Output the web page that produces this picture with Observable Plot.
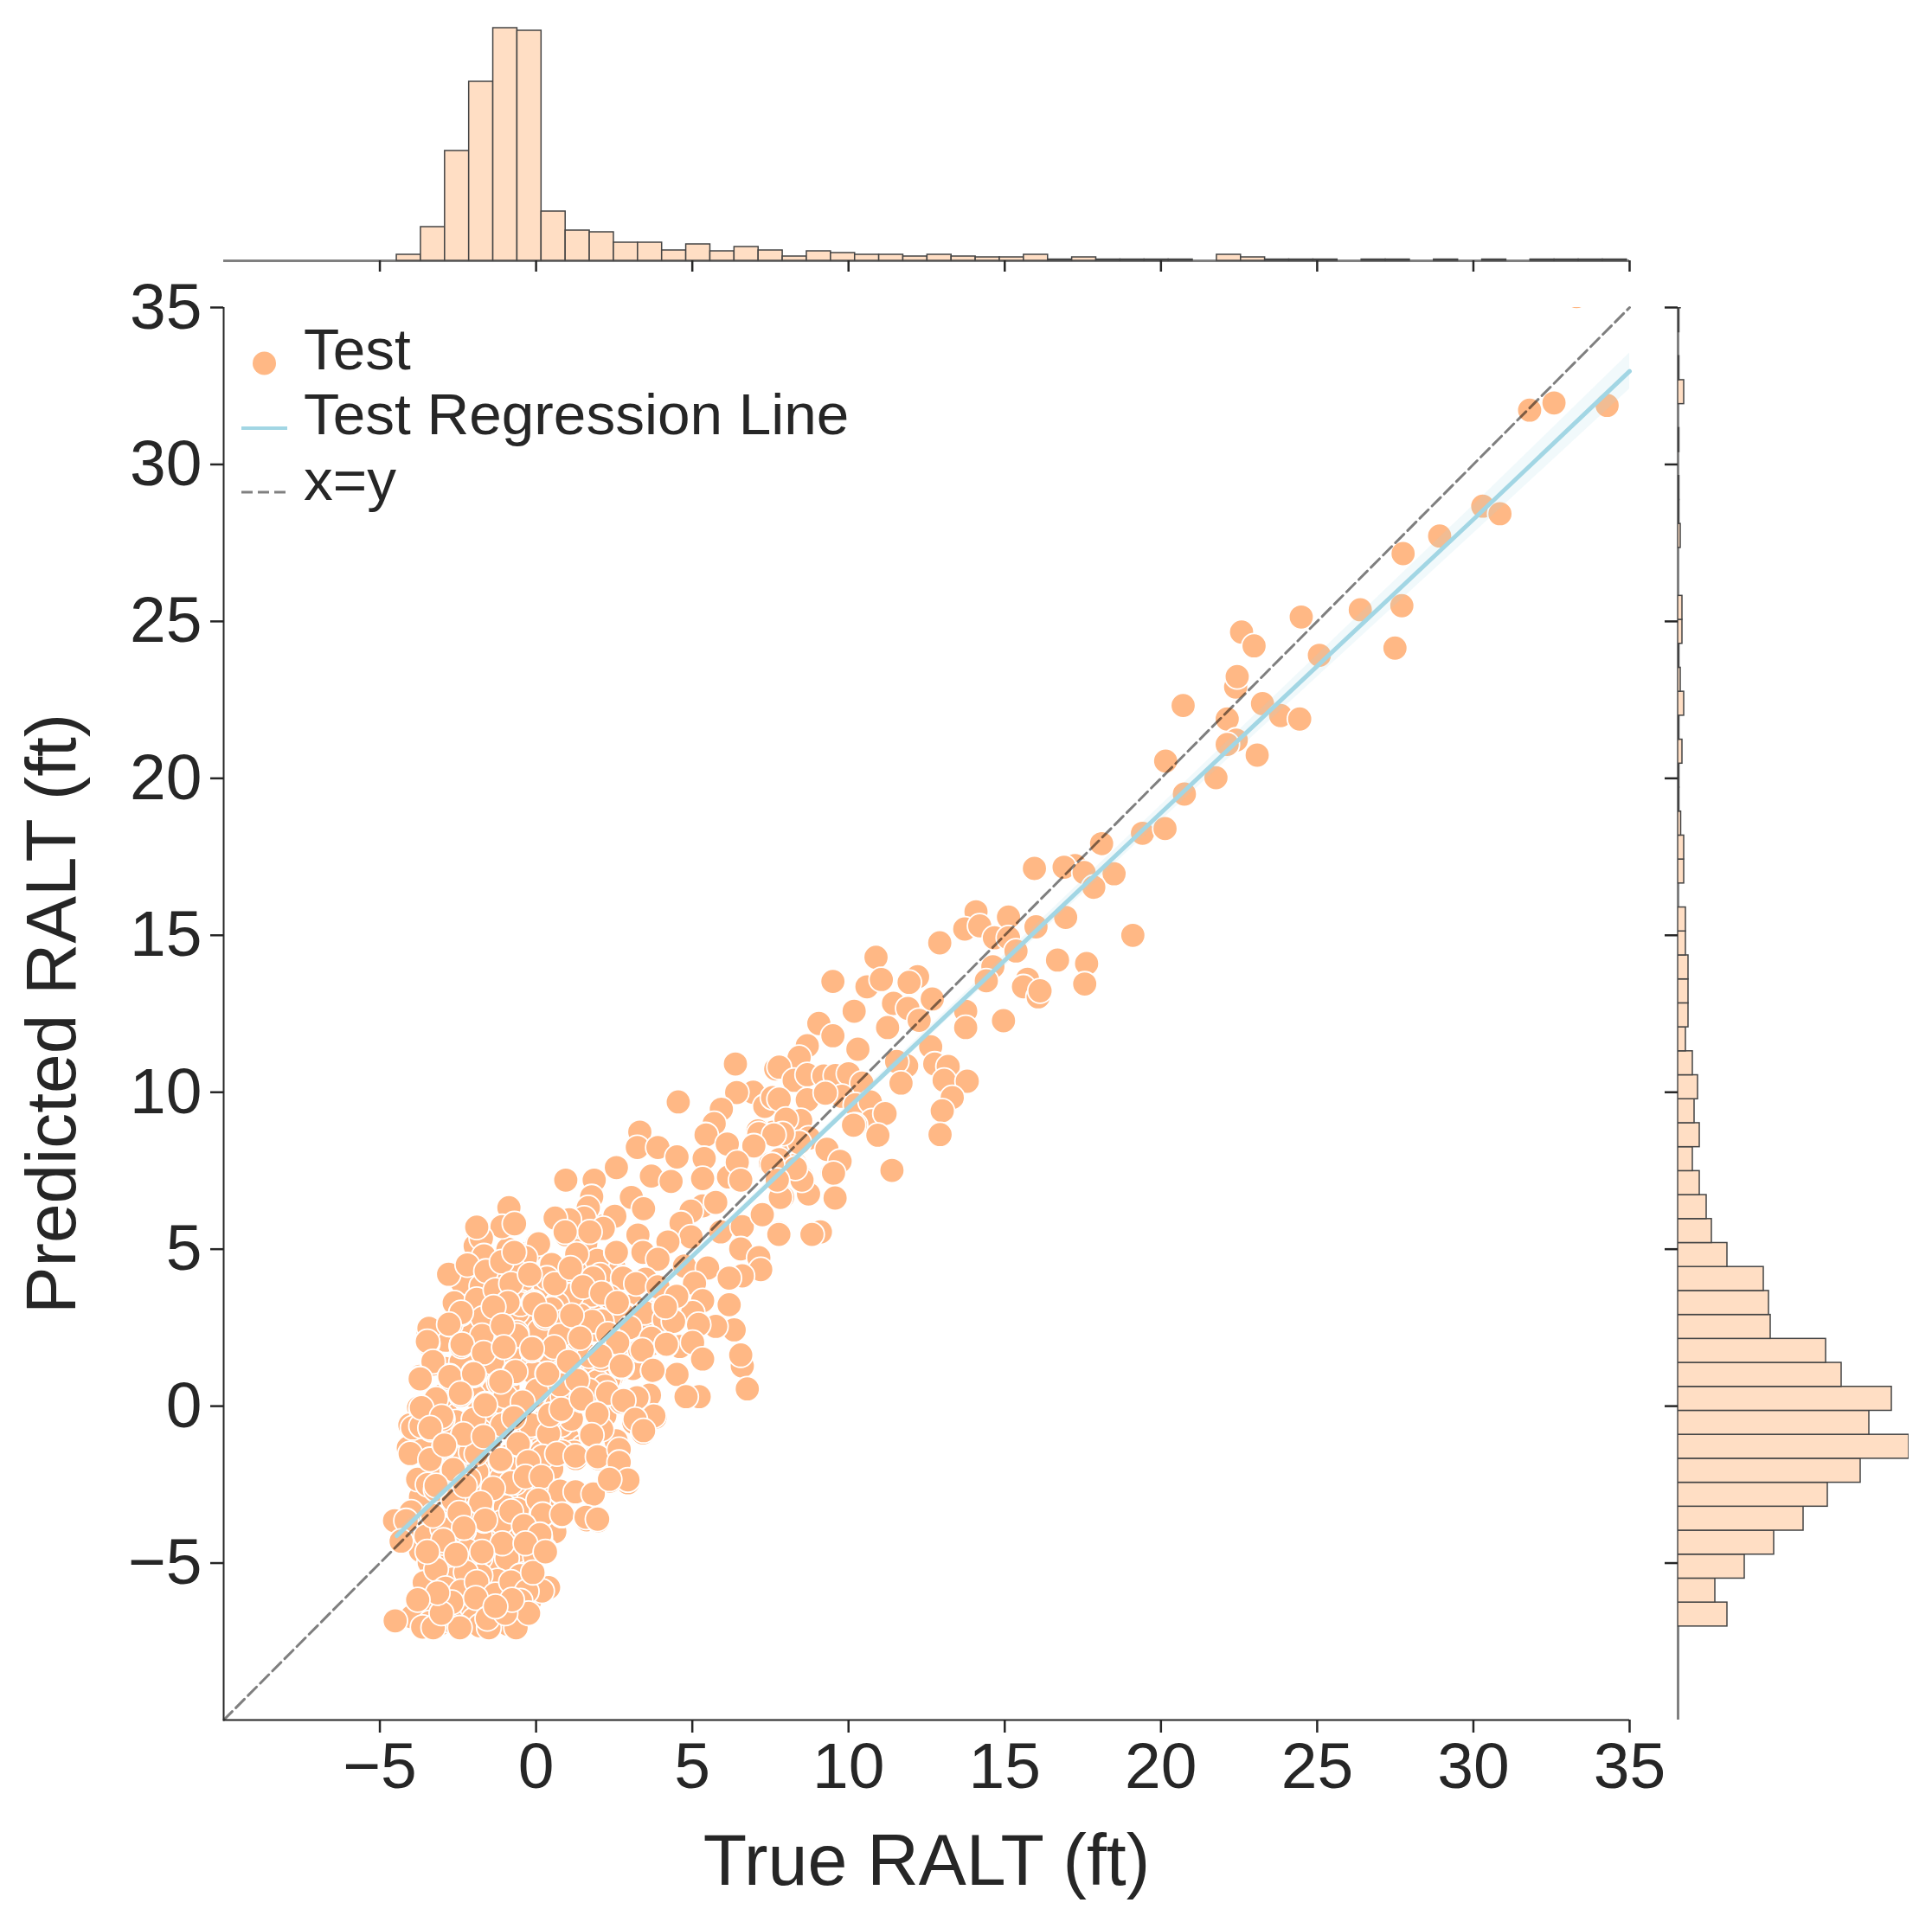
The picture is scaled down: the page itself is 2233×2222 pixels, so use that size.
<!DOCTYPE html>
<html>
<head>
<meta charset="utf-8">
<script src="https://cdn.jsdelivr.net/npm/d3@7"></script>
<script src="https://cdn.jsdelivr.net/npm/@observablehq/plot@0.6"></script>
<style>
html,body{margin:0;padding:0;background:#fff;}
#chart{position:relative;width:2233px;height:2222px;overflow:hidden;font-family:"Liberation Sans",Arial,sans-serif;}
#chart svg{position:absolute;left:0;top:0;}
</style>
</head>
<body>
<div id="chart"></div>
<script>
const axisTicks = [-5,0,5,10,15,20,25,30,35];
const axisDomain = [-10,35];
const xTitle = "True RALT (ft)";
const yTitle = "Predicted RALT (ft)";
const legendLabels = ["Test","Test Regression Line","x=y"];

const dotColor = "#FFB885";
const lineColor = "#A2D6E4";
const histFill = "#FFDEC4";
const histStroke = "#444444";
const inkColor = "#262626";

// marginal histogram of True RALT: first edge, bin width, bar heights
const topHistStart = -4.46;
const topHistStep = 0.772;
const topHistHeights = [7,39,127,207,269,266,57,35,33,21,21,12,19,11,16,12,5,11,9,7,7,5,7,5,4,4,7,1.5,4,1.5,1.5,1.5,1.5,0,7,4,1.5,1.5,1.5,0,1.5,1.5,0,1.5,0,1.5,0,1.5,1.5,1.5,1.5];

// marginal histogram of Predicted RALT
const rightHistStart = -7.02;
const rightHistStep = 0.7636;
const rightHistLengths = [57,43,77,111,145,173,211,267,221,247,189,171,107,105,99,57,39,33,25,17,25,19,23,17,9,12,12,12,9,9,0,7,7,3.5,1.5,1.5,5,1.5,7,3,1.5,5,5,0,0,3,1.5,1.5,0,1.5,0,7,1.5,0,1.5,3];

// regression line and its confidence band
const regX = [-4.46,0,10,20,30,35];
const regY = [-4.13,0.05,9.5,18.9,28.25,32.97];
const regLow = [-4.3,-0.05,9.38,18.65,27.8,32.4];
const regHigh = [-3.96,0.15,9.62,19.15,28.7,33.55];

const identityLine = [-10,35];

// points lying deepest in the dense cloud: [true, predicted]
const deepPoints = [
[-0.2,2.8],[-0.6,3.0],[0.1,2.4],[-0.3,1.4],[0.4,1.6],[-1.4,2.4],[-2.1,2.4],[-2.9,2.1],[-2.9,1.2],[-2.4,1.4],[-1.6,1.0],[-0.9,0.6],[0.3,0.2],[1.4,1.1],[1.9,1.1],[2.76,1.2],[2.4,0.9],[3.75,2.0],[3.1,1.2],[3.4,2.4],[1.4,0.4],[2.56,-1.1],[3.55,-0.35],[2.2,-0.3],[1.0,-1.0],[1.5,-1.3],[-2.2,0.4],[-3.35,-1.5],[-2.76,-2.7],[-1.4,-3.9],[-1.5,-2.0],[-0.6,-1.5],[-2.4,-1.1],[-2.2,-1.9],[-1.6,-2.5],[-0.2,-2.6],[0.5,-1.2],[0.8,-0.6],[-1.3,0.0],[-2.9,-0.2],[-2.4,-3.0],[-1.0,-2.8],[0.6,-4.0],[-0.6,-4.2],[-2.2,-4.2],[-3.0,-4.6],[-2.6,-5.2],[-1.9,-5.2],[-1.0,-5.6],[-0.2,-4.4],[-3.3,-6.0],[-2.3,-6.0],[-1.2,-6.4],[-0.4,-6.6],[3.1,3.2],[3.8,3.0],[2.5,4.4],[1.3,3.2],[-0.2,4.9],[1.7,4.4]
];

// points lying under the others in the dense cloud
const densePoints = [
[6.38,10.9],[7.67,10.74],[4.55,9.69],[6.95,10.0],[6.42,9.99],[7.69,9.74],[7.32,9.55],[7.57,9.83],[5.93,9.46],[5.7,9.0],[5.42,8.65],[7.59,8.73],[7.1,8.77],[8.24,8.3],[8.29,7.72],[7.5,7.72],[6.46,7.76],[6.16,7.3],[6.56,7.17],
[0.95,5.46],[0.12,3.99],[-0.9,5.0],[-1.27,4.18],[-0.44,3.99],[-2.0,3.26],[-1.55,2.71],[-0.62,2.34],[0.76,2.62],[-0.07,1.06],[0.76,1.06],[-1.36,0.51],[-0.07,0.32],[0.85,0.32],[-2.0,0.32],[-3.02,0.32],[0.21,-0.5],[1.13,-0.41],[-0.07,-0.96],[-1.36,-0.6],[-2.56,-0.5],[1.78,1.61],[2.33,0.87],[1.96,0.78],[1.22,2.62],[1.78,2.89],[2.33,2.8],[1.78,3.54],[0.48,3.9],[1.59,5.19],[1.96,4.64],[0.76,4.09],
[-3.6,-1.0],[-3.0,-0.9],[-2.6,-1.6],[-1.5,-1.3],[-0.9,-1.6],[-0.5,-1.9],[-3.1,-2.1],[-1.9,-2.1],[-1.1,-2.3],[0.5,-2.0],[-3.7,-2.9],[-2.9,-3.0],[-2.2,-3.0],[-1.3,-3.3],[-0.4,-2.9],[0.5,-3.0],[-3.8,-3.9],[-3.2,-4.4],[-2.6,-4.2],[-1.8,-4.1],[-0.9,-4.0],[0.0,-3.9],[-3.7,-4.6],[-3.0,-4.9],[-2.1,-5.0],[-1.1,-5.2],[-0.4,-5.0],[-3.3,-5.5],[-2.5,-5.6],[-1.6,-6.3],[-2.3,-6.4],[-3.4,-6.3],[-2.8,-6.5],[-0.9,-6.1],[-0.2,-6.2],
[-0.88,6.34],[-1.08,5.74],[0.6,5.97],[1.04,5.97],[1.36,5.74],[2.15,5.74],[2.52,6.06],[-1.89,5.28],[-1.7,4.82],[0.04,5.19],[-0.36,4.78],[2.56,4.91],[0.53,4.5],[-0.72,4.34],[-2.42,3.95],[0.3,3.81],[1.04,3.54],[2.05,4.18],[2.79,4.09],[2.36,3.51],[-0.48,3.31],[0.67,3.26],[-2.56,3.35],[0.3,2.85],[2.89,2.89],[1.41,2.89],[-2.75,2.62],[1.92,2.43],[1.36,2.19],[2.63,1.97],[-2.38,1.96],[-0.12,1.84],[-3.49,2.02],[-1.55,1.51],[-0.81,1.7],[2.05,1.56],[2.7,1.27],[-3.33,1.42],[-2.0,1.06],[-0.72,1.08],[0.36,1.04],[-3.72,0.95],[-2.77,0.96],[-1.18,0.78],[1.04,1.47],[1.33,0.83],[-2.42,0.41],[-1.64,0.05],[-0.44,0.09],[1.45,0.23],[2.29,0.37],[2.79,0.18],[-3.76,-0.05],[-0.72,-0.32],[0.46,-0.27],[1.92,-0.23],[-3.02,-0.41],[-4.04,-0.6],[-1.66,-0.96],[-0.53,-1.15],[1.78,-0.87],[-4.09,-1.33],[-2.98,-1.28],[1.22,-1.47],[2.7,-1.42],[-3.67,-1.24]
];

// [true, predicted]
const testPoints = [
[33.3,35.35],[34.28,31.88],[32.58,31.96],[31.8,31.73],[30.3,28.67],[30.85,28.43],[28.92,27.72],[27.75,27.16],[27.71,25.5],[26.38,25.37],[24.49,25.14],[27.49,24.15],[22.58,24.66],[22.98,24.22],[25.07,23.92],[22.39,22.91],[22.44,23.24],[20.71,22.32],[23.25,22.38],[23.83,22.0],[24.44,21.89],[22.12,21.89],[22.41,21.22],[22.12,21.08],[23.08,20.74],[20.15,20.55],[21.76,20.02],[20.75,19.5],[19.41,18.25],[20.13,18.4],[18.1,17.92],
[15.95,17.13],[17.25,17.22],[16.9,17.17],[17.54,17.0],[18.5,16.96],[17.85,16.53],[14.08,15.75],[13.72,15.2],[14.2,15.3],[15.12,15.58],[16.0,15.27],[16.95,15.57],[19.1,15.0],[12.92,14.76],[14.67,14.92],[15.12,14.92],[15.36,14.5],[14.62,14.0],[14.41,13.55],[16.69,14.21],[17.62,14.1],[17.56,13.45],[15.73,13.6],[15.6,13.36],[16.07,13.04],[16.13,13.23],
[10.88,14.3],[9.5,13.53],[10.59,13.36],[11.05,13.59],[12.21,13.68],[11.94,13.5],[11.44,12.83],[12.68,12.97],[10.18,12.58],[11.9,12.67],[12.26,12.29],[11.25,12.06],[13.75,12.58],[13.75,12.06],[14.96,12.28],[9.05,12.19],[9.5,11.8],[8.68,11.48],[10.3,11.37],[8.42,11.11],[7.78,10.8],[12.63,11.45],[11.86,10.84],[11.54,10.98],[12.76,10.9],[13.19,10.82],[13.06,10.38],[13.8,10.35],[11.68,10.29],[13.32,9.83],[13,9.41],[12.93,8.65],[8.26,10.38],[8.68,10.56],[9.21,10.52],[9.58,10.53],[10.0,10.59],[10.43,10.29],[9.79,9.87],[8.68,9.76],[9.26,9.97],[7.78,9.78],[10.22,9.6],[10.7,9.69],[10.75,9.09],[11.17,9.32],[10.22,8.96],[10.94,8.63],[8.47,9.1],[8,9.14],[9.32,8.17],[9.69,7.81],[9.48,7.44],[8.73,8.54],[8.52,7.26],[8.73,6.8],[9.56,6.66],[11.39,7.51],[8.26,7.67],[7.89,6.66],[7.78,5.51],[9.11,5.58],[8.81,5.48],[8.42,8.4],[7.89,8.68],[7.78,7.85],
[3.32,8.73],[3.24,8.24],[3.9,8.24],[4.51,7.94],[5.44,8.64],[6.12,8.35],[5.38,7.89],[7.13,8.68],[7.61,8.64],[6.97,8.29],[6.44,7.77],[6.55,7.2],[5.33,7.25],[3.69,7.33],[4.32,7.16],[2.57,7.6],[0.95,7.2],[1.86,7.2],[1.78,6.67],[3.05,6.65],[3.44,6.29],[2.52,6.05],[1.67,6.32],[1.54,5.99],[1.06,5.94],[0.61,5.99],[2.15,5.66],[1.72,5.55],[0.93,5.55],[-0.87,6.32],[-1.09,5.72],[-0.69,5.81],[3.26,5.45],[5.33,6.38],[4.96,6.21],[5.75,6.49],[4.64,5.83],[4.96,5.39],[4.22,5.23],[5.91,5.55],[6.6,5.72],[7.24,6.1],[7.77,5.47],[6.55,5.01],[7.13,4.73],[7.19,4.35],[6.6,4.15],[9.1,5.55],[8.83,5.47],[9.31,8.18],[9.73,7.8],[9.52,7.42],[8.72,6.76],[9.57,6.63],[7.82,6.65],[8.51,7.2],[8.3,7.58],[7.56,7.69],[7.72,7.2],[10.16,8.95],
[-1.88,5.28],[-1.95,5.1],[-1.75,5.35],[-1.9,5.7],[-1.67,4.79],[0.08,5.17],[-0.34,4.73],[1.3,4.84],[2.57,4.9],[3.42,4.9],[3.9,4.68],[-0.69,4.32],[0.5,4.51],[-2.36,3.93],[-1.75,3.82],[0.35,4.08],[1.83,4.08],[2.78,4.08],[3.5,4.04],[4.75,4.46],[5.49,4.4],[5.07,3.91],[6.18,4.08],[6.18,3.23],[5.33,3.36],[5.01,2.98],[6.34,2.43],[5.75,2.54],[1.14,3.53],[2.36,3.47],[-0.5,3.25],[-0.08,3.31],[-1.3,3.09],[-2.62,3.29],[-2.41,2.93],[0.67,3.25],[0.29,2.82],[2.84,2.87],[3.47,2.98],[4.11,3.2],[4.11,2.76],[-3.47,2.43],[-2.73,2.6],[-1.09,2.49],[2.1,2.71],
[-2.8,4.2],[-2.2,4.5],[-1.6,4.3],[-1.1,4.6],[-0.7,4.9],[-1.9,3.4],[-1.3,3.7],[-0.8,3.9],[-0.2,4.2],[0.6,3.9],[1.1,4.4],[1.5,3.8],[2.1,3.6],[2.6,3.3],[3.2,3.9],[3.9,3.8],[4.5,3.5],[4.4,2.7],[5.2,2.6],[4.6,1.9],[3,2.5],[-1.7,2.8],[-0.9,3.3],[1.8,2.7],[2.3,2.3],[0.5,3.1],[0.9,2.7],
[-3.47,2.0],[-2.39,1.91],[-0.13,1.78],[-1.62,2.16],[-1.0,1.94],[1.35,2.13],[2.63,1.94],[3.69,2.16],[4.16,1.94],[5.01,2.03],[5.33,1.5],[3.32,1.78],[-3.31,1.34],[-1.4,1.39],[-0.71,1.06],[0.37,0.98],[1.04,1.34],[2.1,1.5],[2.75,1.25],[3.74,1.12],[4.51,1.01],[6.6,1.28],[6.55,1.63],[6.76,0.55],
[-3.74,0.88],[-2.76,0.88],[-1.99,0.99],[-1.19,0.74],[1.32,0.79],[2.2,0.63],[3.63,0.35],[3.24,0.22],[5.22,0.3],[4.8,0.3],[2.73,0.13],[1.46,0.19],[-2.41,0.35],[-1.62,0.07],[-0.5,0.02],[-3.68,-0.09],[0.45,-0.36],[1.94,-0.3],[0.77,-0.14],[3.81,-0.36],[3.13,-0.52],[3.42,-0.85],
[-3.95,-0.69],[-3.68,-0.63],[-3.37,-0.74],[-2.99,-0.41],[-2.34,-0.94],[-0.77,-0.41],[-1.09,-0.69],[-0.24,-0.69],[-1.78,-0.8],[0.4,-0.91],[1.78,-0.96],[2.1,-0.74],
[-4.03,-1.51],[-2.94,-1.29],[-2.09,-1.46],[-0.56,-1.24],[-1.14,-1.73],[-0.24,-1.84],[0.19,-1.46],[2.68,-1.46],[1.27,-1.67],[1.99,-1.67],[2.68,-1.84],[0.82,-1.46],
[-2.68,-2.06],[-3.79,-2.33],[-3.47,-2.5],[-3.21,-2.66],[-2.15,-2.33],[-1.4,-2.72],[-0.98,-2.77],[-0.29,-2.22],[0.19,-2.39],[2.94,-2.44],[2.36,-2.39],[1.25,-2.77],[0.82,-2.77],[1.83,-2.82],[-0.66,-2.44],
[-1.78,-3.15],[-4,-3.37],[-4.53,-3.65],[-4.16,-3.65],[-3.31,-3.48],[-2.46,-3.48],[-0.98,-3.21],[0.19,-3.48],[0.82,-3.48],[1.62,-3.62],[1.99,-3.65],
[-4.32,-4.3],[-3.52,-4.14],[-2.31,-3.97],[-0.37,-3.86],[-1.67,-3.65],[0.13,-4.19],[-1.06,-4.43],[-2.96,-4.36],
[-3.0,-3.9],[-2.0,-3.4],[-1.1,-3.7],[-0.6,-3.3],[-2.2,-4.6],[-1.4,-4.9],[-0.6,-4.6],
[-3.42,-4.98],[-2.5,-4.98],[-1.78,-4.83],[-0.93,-4.85],[-0.03,-4.8],[0.29,-4.58],[-0.5,-5.4],[0.4,-5.78],[0.19,-5.89],[-3.58,-5.62],[-1.67,-5.73],[-1.24,-5.56],[-2.68,-5.51],[-1.78,-5.4],[-2.25,-5.29],
[-3.2,-5.2],[-2.9,-5.8],[-2.4,-5.9],[-1.9,-5.6],[-1.3,-6.0],[-0.8,-5.6],[-0.3,-5.9],[-0.1,-5.3],[-0.5,-6.2],
[-3.98,-6.71],[-3.4,-6.9],[-3.1,-6.95],[-2.7,-6.85],[-2.0,-6.8],[-1.8,-7.0],[-1.2,-6.9],[-0.9,-6.95],[-4.51,-6.84],[-3.63,-7.04],[-3.29,-7.06],[-2.44,-7.06],[-1.51,-7.06],[-0.64,-7.06],[-2.7,-6.25],[-1.93,-6.11],[-3.03,-6.6],[-1.56,-6.77],[-0.24,-6.6],[-0.98,-6.6],[-3.15,-5.95],[-3.79,-6.17],[-0.77,-6.17],[-1.3,-6.38],
[-1.73,2.25],[-0.62,2.25],[0.77,2.25],[0.58,1.88],[1.69,1.6],[0.03,0.5],[0.77,0.68],[1.69,0.5],[-0.99,0.32],[-3.2,0.23],[-0.16,-0.6],[0.4,-0.88],[-3.67,-0.05],[-2,-0.42],[-1.08,-0.6],[0.21,-1.61],[-1.91,-1.52],[-3.39,-1.7],[0.67,-1.52],[-0.8,-2.44],[-2.65,-2.99],[-0.8,-3.35],
[-2.4,2.98],[-1.36,3.16],[-0.06,3.26],[0.3,2.89],[1.14,2.89],[-3.43,2.48],[-2.79,2.61],[-1.08,2.57],[1.41,2.17],[2.61,2.02],[4.14,3.16],[-2.37,1.97],[-3.48,2.06],[-1.68,1.7],[-1.03,1.88],[-0.13,1.83],[-0.66,1.1],[0.37,1.03],[1.04,1.42],[2.06,1.6],[2.73,1.28],[3.4,1.79],[4.17,1.97],[3.74,1.14],[1.32,0.82],[-3.3,1.42],[-2.76,0.94],[-2,1.03],[-3.71,0.87],[-1.13,0.78],[-2.42,0.41],[-1.63,0.04],[-0.43,0.13],[-0.71,-0.37],[0.44,-0.28],[0.81,-0.1],[1.46,0.23],[2.29,0.41],[3.23,0.27],[2.8,0.18],[1.95,-0.25],[3.77,-0.31],[3.17,-0.42],[3.44,-0.78],[-3.02,-0.33],[-3.39,-0.69],[-2.33,-0.89],[-1.68,-0.97],[-0.57,-1.2],[-2.93,-1.24],[1.78,-0.92],[1.26,-1.59],[1.97,-1.61],[2.66,-1.38],[2.66,-1.79],[-1.13,-1.7],[-0.25,-1.77],[-2.65,-2.02],[-0.34,-2.25],[0.17,-2.25],[-3.2,-2.53],[-1.38,-2.62],[-2.28,-2.53],[0.77,-2.71],[1.26,-2.73],[1.83,-2.8],[2.94,-2.35],[2.35,-2.33],[-1.77,-3.08],[0.07,-2.99],[-2.46,-3.4],[-3.3,-3.49],[-1.63,-3.63],[0.21,-3.45],[0.83,-3.45],[1.6,-3.54],[1.97,-3.6],[-2.31,-3.88],[-0.39,-3.81],[0.12,-4.09],[-1.08,-4.37],[-2.97,-4.27],[-3.48,-4.64],[-2.56,-4.73],[-1.73,-4.64],[-0.34,-4.37],[0.3,-4.64]
];

const allPoints = deepPoints.concat(densePoints, testPoints);
const band = regX.map((x,i)=>({x,y:regY[i],lo:regLow[i],hi:regHigh[i]}));
const topBars = topHistHeights.map((v,i)=>({x1:topHistStart+i*topHistStep,x2:topHistStart+(i+1)*topHistStep,v})).filter(d=>d.v>0);
const rightBars = rightHistLengths.map((v,i)=>({y1:rightHistStart+i*rightHistStep,y2:rightHistStart+(i+1)*rightHistStep,v})).filter(d=>d.v>0);

const baseStyle = {fontFamily:'"Liberation Sans",Arial,sans-serif',color:inkColor,background:"transparent",overflow:"visible"};
const chart = document.getElementById("chart");

// main scatter
chart.append(Plot.plot({
  width:2233,height:2222,
  marginLeft:258,marginRight:350,marginTop:355,marginBottom:234,
  style:baseStyle,
  x:{domain:axisDomain,label:null},
  y:{domain:axisDomain,label:null},
  marks:[
    Plot.dot(allPoints,{x:d=>d[0],y:d=>d[1],r:14.3,fill:dotColor,stroke:"white",strokeWidth:1.8,clip:true}),
    Plot.areaY(band,{x:"x",y1:"lo",y2:"hi",fill:lineColor,fillOpacity:0.15}),
    Plot.line(identityLine.map(v=>[v,v]),{x:d=>d[0],y:d=>d[1],stroke:"#000",strokeOpacity:0.5,strokeWidth:3,strokeDasharray:"14,6"}),
    Plot.line(band,{x:"x",y:"y",stroke:lineColor,strokeWidth:5}),
    Plot.ruleX([axisDomain[0]],{stroke:inkColor,strokeWidth:2}),
    Plot.ruleY([axisDomain[0]],{stroke:inkColor,strokeWidth:2}),
    Plot.axisX({ticks:axisTicks,tickSize:15,tickPadding:10,fontSize:75,strokeWidth:2.5,stroke:inkColor,fill:inkColor,label:null}),
    Plot.axisY({ticks:axisTicks,tickSize:15,tickPadding:10,fontSize:75,strokeWidth:2.5,stroke:inkColor,fill:inkColor,label:null}),
    Plot.axisX({ticks:[],tickSize:0,label:xTitle,labelAnchor:"center",labelArrow:"none",labelOffset:190,fontSize:82.5,fill:inkColor}),
    Plot.axisY({ticks:[],tickSize:0,label:yTitle,labelAnchor:"center",labelArrow:"none",labelOffset:230,fontSize:82,fill:inkColor})
  ]
}));

// top marginal
chart.append(Plot.plot({
  width:2233,height:330,
  marginLeft:258,marginRight:350,marginTop:32,marginBottom:29,
  style:baseStyle,
  x:{domain:axisDomain,label:null},
  y:{domain:[0,269],label:null,axis:null},
  marks:[
    Plot.ruleY([0],{stroke:"#808080",strokeWidth:3}),
    Plot.rectY(topBars,{x1:"x1",x2:"x2",y1:0,y2:"v",fill:histFill,stroke:histStroke,strokeWidth:1.5}),
    Plot.axisX({ticks:axisTicks,tickSize:13,tickFormat:()=>"",strokeWidth:2.5,stroke:inkColor,label:null})
  ]
}));

// right marginal
chart.append(Plot.plot({
  width:2233,height:2222,
  marginLeft:1939,marginRight:27,marginTop:355,marginBottom:234,
  style:baseStyle,
  x:{domain:[0,267],label:null,axis:null},
  y:{domain:axisDomain,label:null},
  marks:[
    Plot.ruleX([0],{stroke:"#808080",strokeWidth:3}),
    Plot.rectX(rightBars,{y1:"y1",y2:"y2",x1:0,x2:"v",fill:histFill,stroke:histStroke,strokeWidth:1.5,clip:true}),
    Plot.axisY({ticks:axisTicks,tickSize:15,tickFormat:()=>"",strokeWidth:2.5,stroke:inkColor,label:null})
  ]
}));

// legend
const lg = d3.create("svg").attr("width",2233).attr("height",700)
  .style("font-family",'"Liberation Sans",Arial,sans-serif');
lg.append("circle").attr("cx",305.5).attr("cy",420).attr("r",13.5).attr("fill",dotColor);
lg.append("line").attr("x1",279).attr("x2",332).attr("y1",495).attr("y2",495).attr("stroke",lineColor).attr("stroke-width",4);
lg.append("line").attr("x1",279).attr("x2",330).attr("y1",569).attr("y2",569).attr("stroke","#808080").attr("stroke-width",3).attr("stroke-dasharray","13,6");
[427,502,578].forEach((y,i)=>lg.append("text").attr("x",351).attr("y",y).attr("font-size",67.5).attr("fill",inkColor).text(legendLabels[i]));
chart.append(lg.node());
</script>
</body>
</html>
